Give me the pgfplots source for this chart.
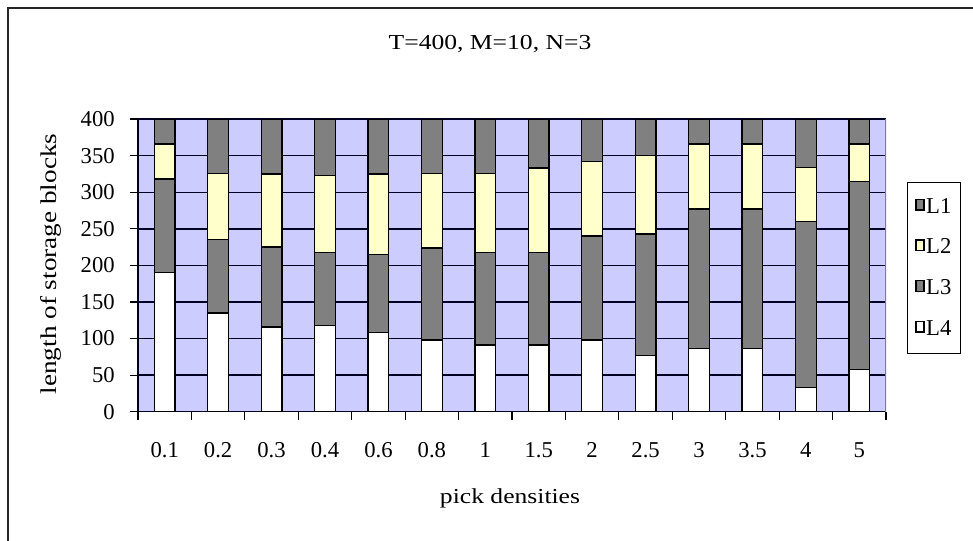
\documentclass[border=0pt]{standalone}
\usepackage{fontspec}
\setmainfont{Liberation Serif}
\newfontfamily\lblfont{Liberation Serif}[FakeStretch=1.2]
\usepackage{pgfplots}
\pgfplotsset{compat=1.18}
\usepackage{pgfplotstable}
\definecolor{bgc}{HTML}{CCCCFF}
\definecolor{grayb}{HTML}{808080}
\definecolor{yel}{HTML}{FFFFCC}
\definecolor{gridc}{HTML}{000022}

\pgfplotstableread{
x L4 L3 L2 L1
0 190 128 48 34
1 135 100 91 74
2 116 109 100 75
3 118 100 105 77
4 108 107 110 75
5 98 126 102 74
6 91 127 108 74
7 91 127 115 67
8 98 142 102 58
9 77 166 107 50
10 86 191 89 34
11 86 191 89 34
12 33 227 74 66
13 58 257 51 34
}\data

\tikzset{sqlegend/.style={legend image code/.code={\draw[##1,draw=black,line width=0.6pt] (0pt,-4.5pt) rectangle (11.25pt,4.5pt);}}}

\begin{document}
\begin{tikzpicture}[x=1pt,y=1pt]
\useasboundingbox (0,0) rectangle (729.75,405);
\draw[line width=1.1pt, black!85] (6,-5) -- (6,399) -- (740,399);
\node[font=\lblfont\fontsize{16}{19}\selectfont] at (367.5,372) {T=400, M=10, N=3};
\node[font=\lblfont\fontsize{16}{19}\selectfont] at (382.5,31.5) {pick densities};
\node[rotate=90,font=\lblfont\fontsize{17}{19}\selectfont] at (38.25,207) {length of storage blocks};
\begin{axis}[
  at={(103.5pt,96.2pt)}, anchor=south west,
  scale only axis, width=561pt, height=219.5pt,
  ybar stacked, bar width=15.5pt,
  xmin=-0.5, xmax=13.5, ymin=0, ymax=400,
  xtick={0,...,13},
  xticklabels={0.1,0.2,0.3,0.4,0.6,0.8,1,1.5,2,2.5,3,3.5,4,5},
  major x tick style={draw=none},
  minor xtick={-0.5,0.5,...,13.5},
  ytick={0,50,...,400},
  tick align=outside,
  major tick length=6pt, minor tick length=6pt,
  tick style={black, line width=0.9pt},
  axis x line*=bottom, axis y line*=left,
  axis line style={gridc, line width=1.1pt, -},
  axis background/.style={fill=bgc},
  ymajorgrids=true,
  grid style={gridc, line width=1.1pt},
  /pgf/number format/assume math mode=true,
  ticklabel style={font=\fontsize{17}{19}\selectfont},
  xticklabel style={anchor=center, inner sep=0pt, yshift=-22.5pt},
  yticklabel style={anchor=east, inner sep=0pt, xshift=-11.25pt},
  reverse legend,
  legend style={at={(1.028,0.785)}, anchor=north west, draw=black, line width=0.8pt,
    fill=white, font=\fontsize{17}{19}\selectfont, row sep=13.5pt,
    inner xsep=6pt, inner ysep=10pt,
    nodes={inner sep=1pt, text height=12pt, text depth=3pt}},
]
\addplot[fill=white, draw=black, line width=1pt, sqlegend] table[x=x,y=L4] {\data};
\addplot[fill=grayb, draw=black, line width=1pt, sqlegend] table[x=x,y=L3] {\data};
\addplot[fill=yel, draw=black, line width=1pt, sqlegend] table[x=x,y=L2] {\data};
\addplot[fill=grayb, draw=black, line width=1pt, sqlegend] table[x=x,y=L1] {\data};
\legend{L4,L3,L2,L1}
\draw[gray, line width=0.8pt] (rel axis cs:1,0) -- (rel axis cs:1,1);
\end{axis}
\end{tikzpicture}
\end{document}
